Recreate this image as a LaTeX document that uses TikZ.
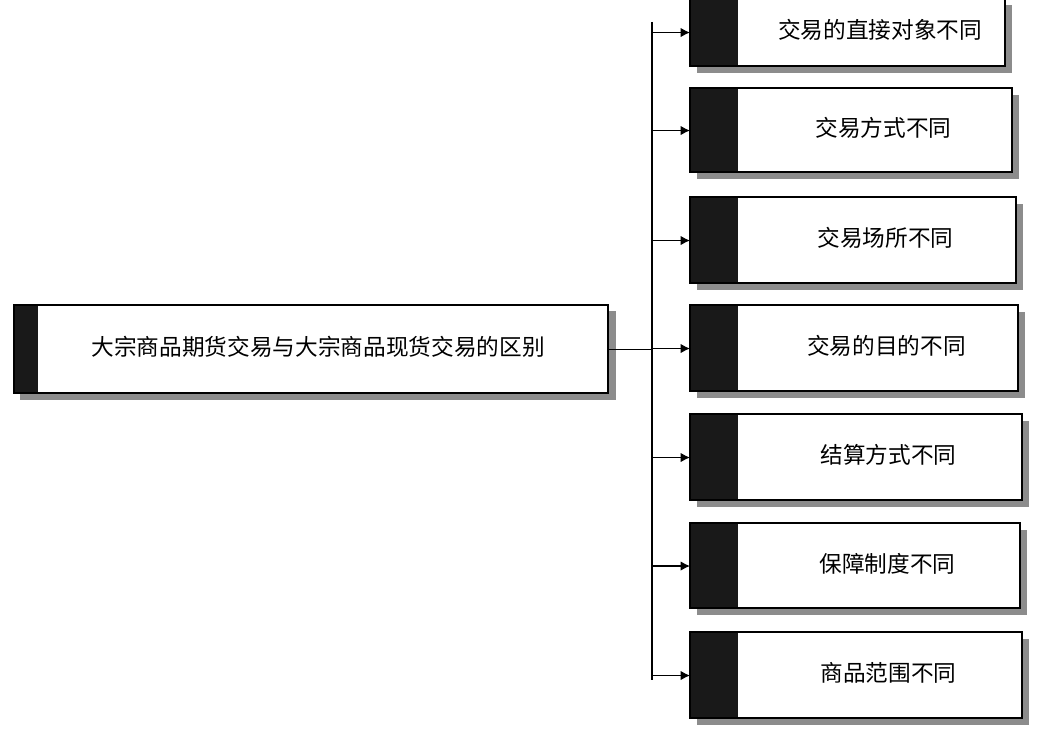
\documentclass[tikz,border=0pt]{standalone}
\usepackage{fontspec}
\newfontfamily\cjk{Noto Sans CJK SC}
\usetikzlibrary{arrows.meta}
\tikzset{
  item/.style={draw=black, thick, fill=white, anchor=north west, inner sep=0pt,
    font=\cjk\fontsize{17}{17}\selectfont, text height=12pt, text depth=3pt},
  bar/.style={fill=black!90},
  shade/.style={fill=black!45},
  arrow/.style={thick, -{Latex[length=7pt,width=7pt]}}
}
\begin{document}
\begin{tikzpicture}[x=0.75pt, y=-0.75pt]
  \useasboundingbox (0,0) rectangle (1051,734);
  % root
  \fill[shade] (20,311) rectangle (616,400);
  \node (root) [item, minimum width=594*0.75pt, minimum height=88*0.75pt, text width=530*0.75pt, align=center] at (14,305) {\hspace*{10pt}大宗商品期货交易与大宗商品现货交易的区别};
  \fill[bar] (14,305) rectangle (38,393);
  \draw[thick] (14,305) rectangle (608,393);
  % children
  \foreach \i/\t/\w/\y/\h in {1/交易的直接对象不同/315/-2/68,2/交易方式不同/322/88/84,3/交易场所不同/326/197/86,4/交易的目的不同/328/305/86,5/结算方式不同/332/414/86,6/保障制度不同/330/523/85,7/商品范围不同/332/632/86}{
    \fill[shade] (697,\y+7) rectangle (690+\w+7,\y+\h+7);
    \node (c\i) [item, minimum width=\w*0.75pt, minimum height=\h*0.75pt] at (690,\y) {\hspace*{48pt}\t};
    \fill[bar] (690,\y) rectangle (738,\y+\h);
    \draw[thick] (690,\y) rectangle (690+\w,\y+\h);
  }
  % trunk
  \coordinate (top) at (652,22);
  \coordinate (bot) at (652,680);
  \draw[thick] (top) -- (bot);
  \draw[thick] (root.east) -- (root.east -| top);
  \foreach \i in {1,...,7}{
    \draw[arrow] (c\i.west -| top) -- (c\i.west);
  }
\end{tikzpicture}
\end{document}
